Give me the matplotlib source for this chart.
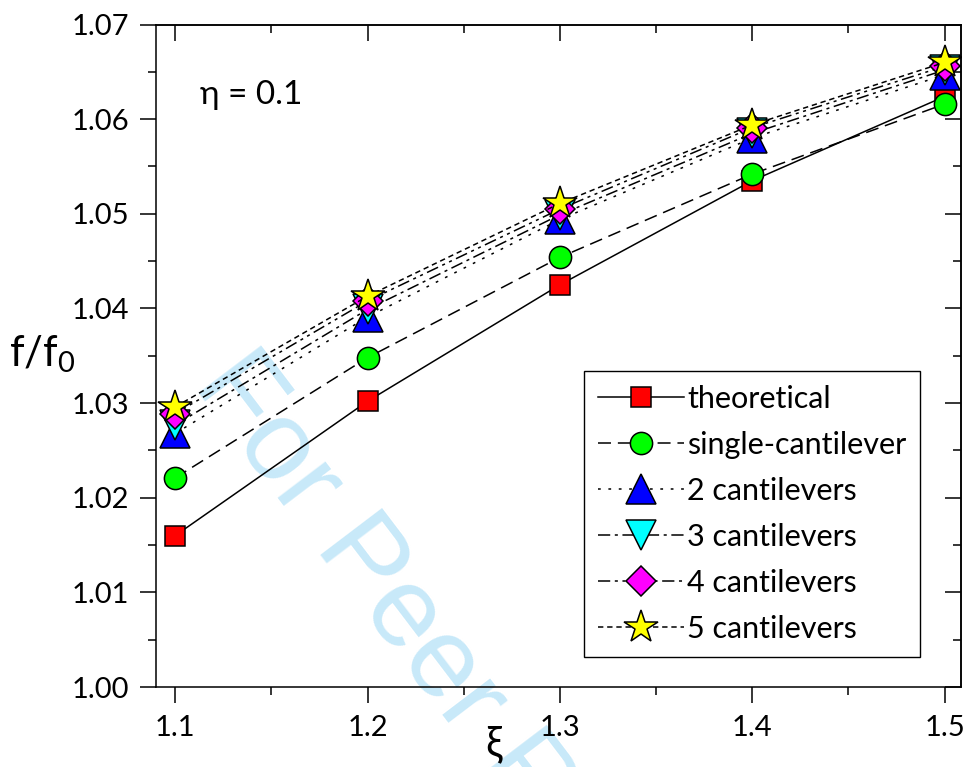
import matplotlib
matplotlib.use('Agg')
import matplotlib.pyplot as plt
from matplotlib.ticker import MultipleLocator

plt.rcParams['font.family'] = ['Lato', 'DejaVu Sans']
plt.rcParams['mathtext.default'] = 'regular'

# data
xi = [1.1, 1.2, 1.3, 1.4, 1.5]
theoretical = [1.0160, 1.0302, 1.0425, 1.0535, 1.0624]
single = [1.0221, 1.0348, 1.0454, 1.0542, 1.0616]
cant2 = [1.0268, 1.0391, 1.0494, 1.0580, 1.0647]
cant3 = [1.0277, 1.0399, 1.0499, 1.0585, 1.0652]
cant4 = [1.0289, 1.0408, 1.0505, 1.0591, 1.0656]
cant5 = [1.0296, 1.0413, 1.0511, 1.0594, 1.0660]

series = [theoretical, single, cant2, cant3, cant4, cant5]
labels = ['theoretical', 'single-cantilever', '2 cantilevers',
          '3 cantilevers', '4 cantilevers', '5 cantilevers']
markers = ['s', 'o', '^', 'v', 'D', '*']
colors = ['#ff0000', '#00ff00', '#0000ff', '#00ffff', '#ff00ff', '#ffff00']
msizes = [15, 16, 21, 21, 15, 25]
dashes = [None, (8.5, 4.5), (1.8, 5), (8, 3, 2, 3), (8, 3, 2, 3, 2, 3), (3.5, 2.5)]

fig = plt.figure(figsize=(9.66, 7.67), dpi=100)
ax = fig.add_axes([0.1615, 0.1043, 0.8333, 0.8637])
ax.patch.set_visible(False)

# watermark behind everything
fig.text(0.1988, 0.498, 'For Peer Review', rotation=-52.8, rotation_mode='anchor',
         ha='left', va='baseline', fontsize=82, color='#c8e9f9',
         family=['Liberation Sans', 'DejaVu Sans'], zorder=-1)

for y, lab, m, c, ms, d in zip(series, labels, markers, colors, msizes, dashes):
    line, = ax.plot(xi, y, color='black', lw=1.1, marker=m, markersize=ms,
                    markerfacecolor=c, markeredgecolor='black', markeredgewidth=1.1,
                    label=lab)
    if d is not None:
        line.set_dashes(d)

ax.set_xlim(1.09, 1.5085)
ax.set_ylim(1.00, 1.07)
ax.xaxis.set_major_locator(MultipleLocator(0.1))
ax.xaxis.set_minor_locator(MultipleLocator(0.05))
ax.yaxis.set_major_locator(MultipleLocator(0.01))
ax.yaxis.set_minor_locator(MultipleLocator(0.005))
ax.yaxis.set_major_formatter(matplotlib.ticker.FormatStrFormatter('%.2f'))
ax.xaxis.set_major_formatter(matplotlib.ticker.FormatStrFormatter('%.1f'))

ax.tick_params(which='both', direction='out', width=1.1, labelsize=21)
ax.tick_params(which='major', length=11.5)
ax.tick_params(which='minor', length=6)
ax.tick_params(axis='x', which='major', pad=9)
ax.tick_params(axis='y', which='major', pad=8)
for s in ax.spines.values():
    s.set_linewidth(1.1)

# inward ticks on top and right
secx = ax.secondary_xaxis('top')
secx.xaxis.set_major_locator(MultipleLocator(0.1))
secx.xaxis.set_minor_locator(MultipleLocator(0.05))
secx.tick_params(which='both', direction='in', width=1.1, labeltop=False)
secx.tick_params(which='major', length=11.5)
secx.tick_params(which='minor', length=6)
secy = ax.secondary_yaxis('right')
secy.yaxis.set_major_locator(MultipleLocator(0.01))
secy.yaxis.set_minor_locator(MultipleLocator(0.005))
secy.tick_params(which='both', direction='in', width=1.1, labelright=False)
secy.tick_params(which='major', length=11.5)
secy.tick_params(which='minor', length=6)
for s in list(secx.spines.values()) + list(secy.spines.values()):
    s.set_linewidth(1.1)

ax.set_ylabel('f/f$_0$', rotation=0, fontsize=30, ha='center', va='center')
ax.yaxis.set_label_coords(-0.1416, 0.503)
ax.set_xlabel('ξ', fontsize=30)
ax.xaxis.set_label_coords(0.419, -0.058)

ax.text(0.0547, 0.880, 'η = 0.1', transform=ax.transAxes, fontsize=24,
        ha='left', va='baseline')

leg = ax.legend(loc='upper left', bbox_to_anchor=(0.605, 0.5163),
                bbox_transform=fig.transFigure, borderaxespad=0,
                fontsize=22, numpoints=1, handlelength=2.8, handletextpad=0.12,
                labelspacing=0.59, borderpad=0.45, fancybox=False, framealpha=1)
leg.get_frame().set_edgecolor('black')
leg.get_frame().set_linewidth(1.0)

fig.savefig('out.png', dpi=100)
